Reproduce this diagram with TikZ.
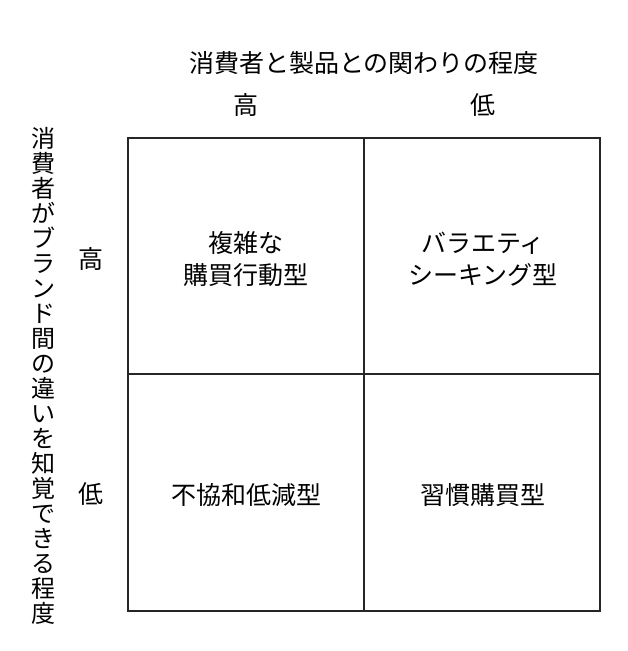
\documentclass[tikz,border=0pt]{standalone}
\usepackage{fontspec}
\setmainfont{Noto Sans CJK JP}
\newfontfamily\jpfont{Noto Sans CJK JP}
\begin{document}
\begin{tikzpicture}[x=1pt,y=-1pt,
  lbl/.style={inner sep=0pt,font=\jpfont\fontsize{25}{32}\selectfont,align=center},
  gridline/.style={line width=1.6pt,black!85}]
\useasboundingbox[fill=white] (0,0) rectangle (628,651);
\node[lbl] (title) at (364,63) {消費者と製品との関わりの程度};
\node[lbl] (colH) at (246,105) {高};
\node[lbl] (colL) at (483,105) {低};
\node[lbl,font=\jpfont\fontsize{24}{25}\selectfont] (rowtitle) at (43,376) {消\\費\\者\\が\\ブ\\ラ\\ン\\ド\\間\\の\\違\\い\\を\\知\\覚\\で\\き\\る\\程\\度};
\node[lbl] (rowH) at (91,259) {高};
\node[lbl] (rowL) at (91,494) {低};
\coordinate (tl) at (128,138);
\coordinate (br) at (600,611);
\coordinate (tm) at (364,138);
\coordinate (bm) at (364,611);
\coordinate (ml) at (128,374);
\coordinate (mr) at (600,374);
\draw[gridline] (tl) rectangle (br);
\draw[gridline] (tm) -- (bm);
\draw[gridline] (ml) -- (mr);
\node[lbl] (c11) at (246,259) {複雑な\\購買行動型};
\node[lbl] (c12) at (483,259) {バラエティ\\シーキング型};
\node[lbl] (c21) at (246,495) {不協和低減型};
\node[lbl] (c22) at (483,495) {習慣購買型};
\end{tikzpicture}
\end{document}
